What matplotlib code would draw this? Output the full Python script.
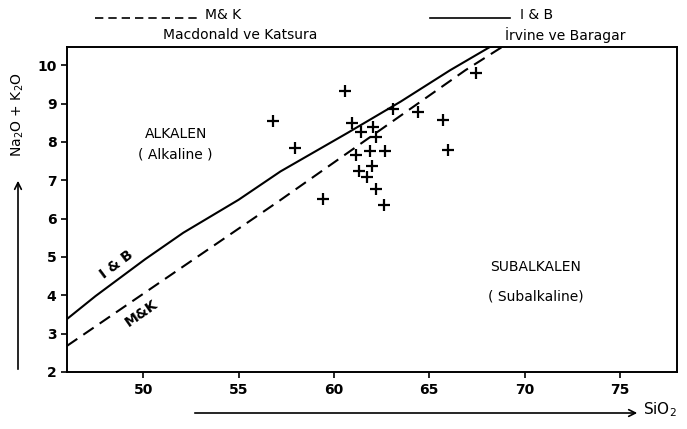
import matplotlib
matplotlib.use("Agg")
import matplotlib.pyplot as plt

# Irvine & Baragar boundary (solid)
ib_sio2 = [46.0, 47.5, 50.1, 52.1, 55.0, 57.2, 60.7, 63.5, 66.1, 68.2, 68.6]
ib_alk = [3.38, 3.98, 4.94, 5.63, 6.49, 7.23, 8.23, 9.05, 9.87, 10.48, 10.5]
# Macdonald & Katsura boundary (dashed)
mk_sio2 = [46.0, 57.1, 66.9, 68.9]
mk_alk = [2.68, 6.45, 9.87, 10.5]
# samples
sio2 = [56.8, 57.95, 59.45, 60.57, 60.97, 61.44, 62.05, 62.23, 61.15, 61.92, 62.68,
        62.0, 61.3, 61.76, 62.19, 62.61, 63.1, 64.43, 65.72, 65.99, 67.47]
alk = [8.55, 7.83, 6.52, 9.33, 8.49, 8.27, 8.40, 8.14, 7.66, 7.77, 7.77,
       7.36, 7.23, 7.08, 6.78, 6.35, 8.85, 8.79, 8.57, 7.79, 9.80]
xticks = [50, 55, 60, 65, 70, 75]
yticks = [2, 3, 4, 5, 6, 7, 8, 9, 10]

plt.rcParams['font.family'] = ['DejaVu Sans']
fig = plt.figure(figsize=(6.87, 4.29), dpi=100)
ax = fig.add_axes([0.0975, 0.133, 0.888, 0.757])
ax.plot(ib_sio2, ib_alk, color='black', lw=1.5)
ax.plot(mk_sio2, mk_alk, color='black', lw=1.5, dashes=(6, 3.5))
ax.scatter(sio2, alk, marker='+', s=85, color='black', linewidths=1.6)
ax.set_xlim(46, 78)
ax.set_ylim(2, 10.47)
ax.set_xticks(xticks)
ax.set_yticks(yticks)
ax.tick_params(labelsize=10, width=1.2, length=4)
for lab in ax.get_xticklabels() + ax.get_yticklabels():
    lab.set_fontweight('bold')
for s in ax.spines.values():
    s.set_linewidth(1.4)
ax.tick_params(axis='x', pad=4)

ax.text(51.7, 8.2, 'ALKALEN', ha='center', va='center', fontsize=10)
ax.text(51.7, 7.68, '( Alkaline )', ha='center', va='center', fontsize=10)
ax.text(68.2, 4.73, 'SUBALKALEN', ha='left', va='center', fontsize=10)
ax.text(68.1, 3.98, '( Subalkaline)', ha='left', va='center', fontsize=10)
ax.text(48.6, 4.8, 'I & B', rotation=37, ha='center', va='center', fontsize=10, fontweight='bold')
ax.text(49.9, 3.52, 'M&K', rotation=35, ha='center', va='center', fontsize=10, fontweight='bold')

# top legend
fig.lines.append(plt.Line2D([95/687, 200/687], [1-18/429, 1-18/429], color='black', lw=1.2, dashes=(5, 3), transform=fig.transFigure))
fig.text(205/687, 1-15/429, 'M& K', fontsize=10, va='center', ha='left')
fig.text(240/687, 1-35/429, 'Macdonald ve Katsura', fontsize=10, va='center', ha='center')
fig.lines.append(plt.Line2D([430/687, 510/687], [1-18/429, 1-18/429], color='black', lw=1.2, transform=fig.transFigure))
fig.text(520/687, 1-15/429, 'I & B', fontsize=10, va='center', ha='left')
fig.text(565/687, 1-35/429, 'İrvine ve Baragar', fontsize=10, va='center', ha='center')

# axis labels with arrows
fig.text(18/687, 1-115/429, 'Na$_2$O + K$_2$O', rotation=90, fontsize=10, va='center', ha='center')
fig.add_artist(matplotlib.patches.FancyArrowPatch((18/687, 1-372/429), (18/687, 1-178/429),
               transform=fig.transFigure, arrowstyle='->', mutation_scale=12, lw=1.2, color='black'))
fig.add_artist(matplotlib.patches.FancyArrowPatch((192/687, 1-413/429), (640/687, 1-413/429),
               transform=fig.transFigure, arrowstyle='->', mutation_scale=12, lw=1.2, color='black'))
fig.text(643/687, 1-410/429, 'SiO$_2$', fontsize=11, va='center', ha='left')

fig.savefig('out.png', dpi=100)
